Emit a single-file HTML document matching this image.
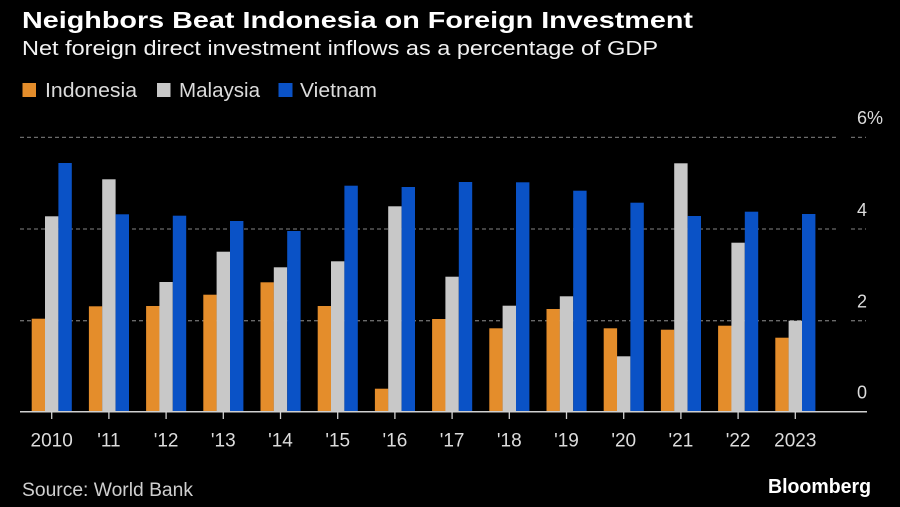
<!DOCTYPE html>
<html><head><meta charset="utf-8"><style>
html,body{margin:0;padding:0;background:#000;}
svg{display:block;}
text{font-family:"Liberation Sans",sans-serif;}
</style></head><body>
<svg width="900" height="507" viewBox="0 0 900 507" xmlns="http://www.w3.org/2000/svg">
<rect width="900" height="507" fill="#000"/>
<text x="22" y="28" font-size="23" font-weight="bold" fill="#fff" textLength="671" lengthAdjust="spacingAndGlyphs">Neighbors Beat Indonesia on Foreign Investment</text>
<text x="22" y="55" font-size="20" fill="#f2f2f2" textLength="636" lengthAdjust="spacingAndGlyphs">Net foreign direct investment inflows as a percentage of GDP</text>
<rect x="22.5" y="83" width="13.5" height="14" fill="#E48D2B"/>
<text x="45" y="97" font-size="20" fill="#dcdcdc" textLength="92" lengthAdjust="spacingAndGlyphs">Indonesia</text>
<rect x="157" y="83" width="13.5" height="14" fill="#C8C8C8"/>
<text x="179" y="97" font-size="20" fill="#dcdcdc" textLength="81" lengthAdjust="spacingAndGlyphs">Malaysia</text>
<rect x="278.5" y="83" width="14" height="14" fill="#0A52C6"/>
<text x="300" y="97" font-size="20" fill="#dcdcdc" textLength="77" lengthAdjust="spacingAndGlyphs">Vietnam</text>
<g stroke="#6a6a6a" stroke-width="1.3" stroke-dasharray="4,3">
<line x1="20" y1="137.4" x2="837" y2="137.4"/><line x1="851" y1="137.4" x2="866" y2="137.4"/>
<line x1="20" y1="229" x2="837" y2="229"/><line x1="851" y1="229" x2="866" y2="229"/>
<line x1="20" y1="320.7" x2="837" y2="320.7"/><line x1="851" y1="320.7" x2="866" y2="320.7"/>
</g>
<g font-size="18" fill="#dcdcdc">
<text x="857" y="124">6%</text>
<text x="857" y="216">4</text>
<text x="857" y="307.5">2</text>
<text x="857" y="398.5">0</text>
</g>
<g id="bars">
<rect x="31.7" y="318.7" width="13.4" height="93" fill="#E48D2B"/><rect x="45.0" y="216.3" width="13.4" height="195.4" fill="#C8C8C8"/><rect x="58.4" y="163" width="13.4" height="248.7" fill="#0A52C6"/>
<rect x="88.9" y="306.3" width="13.4" height="105.4" fill="#E48D2B"/><rect x="102.2" y="179.3" width="13.4" height="232.4" fill="#C8C8C8"/><rect x="115.6" y="214.3" width="13.4" height="197.4" fill="#0A52C6"/>
<rect x="146.1" y="306" width="13.4" height="105.7" fill="#E48D2B"/><rect x="159.4" y="282" width="13.4" height="129.7" fill="#C8C8C8"/><rect x="172.8" y="215.7" width="13.4" height="196" fill="#0A52C6"/>
<rect x="203.3" y="294.7" width="13.4" height="117" fill="#E48D2B"/><rect x="216.6" y="251.7" width="13.4" height="160" fill="#C8C8C8"/><rect x="230.0" y="221" width="13.4" height="190.7" fill="#0A52C6"/>
<rect x="260.5" y="282.3" width="13.4" height="129.4" fill="#E48D2B"/><rect x="273.8" y="267.3" width="13.4" height="144.4" fill="#C8C8C8"/><rect x="287.2" y="231" width="13.4" height="180.7" fill="#0A52C6"/>
<rect x="317.7" y="306" width="13.4" height="105.7" fill="#E48D2B"/><rect x="331.0" y="261.3" width="13.4" height="150.4" fill="#C8C8C8"/><rect x="344.4" y="185.7" width="13.4" height="226" fill="#0A52C6"/>
<rect x="374.9" y="388.7" width="13.4" height="23" fill="#E48D2B"/><rect x="388.2" y="206.3" width="13.4" height="205.4" fill="#C8C8C8"/><rect x="401.6" y="187" width="13.4" height="224.7" fill="#0A52C6"/>
<rect x="432.1" y="319" width="13.4" height="92.7" fill="#E48D2B"/><rect x="445.4" y="276.7" width="13.4" height="135" fill="#C8C8C8"/><rect x="458.8" y="182" width="13.4" height="229.7" fill="#0A52C6"/>
<rect x="489.3" y="328.3" width="13.4" height="83.4" fill="#E48D2B"/><rect x="502.6" y="305.7" width="13.4" height="106" fill="#C8C8C8"/><rect x="516.0" y="182.3" width="13.4" height="229.4" fill="#0A52C6"/>
<rect x="546.5" y="309" width="13.4" height="102.7" fill="#E48D2B"/><rect x="559.8" y="296.3" width="13.4" height="115.4" fill="#C8C8C8"/><rect x="573.2" y="190.7" width="13.4" height="221" fill="#0A52C6"/>
<rect x="603.7" y="328.3" width="13.4" height="83.4" fill="#E48D2B"/><rect x="617.0" y="356.3" width="13.4" height="55.4" fill="#C8C8C8"/><rect x="630.4" y="202.7" width="13.4" height="209" fill="#0A52C6"/>
<rect x="660.9" y="329.7" width="13.4" height="82" fill="#E48D2B"/><rect x="674.2" y="163.3" width="13.4" height="248.4" fill="#C8C8C8"/><rect x="687.6" y="216" width="13.4" height="195.7" fill="#0A52C6"/>
<rect x="718.1" y="325.7" width="13.4" height="86" fill="#E48D2B"/><rect x="731.4" y="242.7" width="13.4" height="169" fill="#C8C8C8"/><rect x="744.8" y="211.7" width="13.4" height="200" fill="#0A52C6"/>
<rect x="775.3" y="337.7" width="13.4" height="74" fill="#E48D2B"/><rect x="788.6" y="320.7" width="13.4" height="91" fill="#C8C8C8"/><rect x="802.0" y="214" width="13.4" height="197.7" fill="#0A52C6"/>
</g>
<line x1="20" y1="411.7" x2="867" y2="411.7" stroke="#d0d0d0" stroke-width="1.5"/>
<g stroke="#d0d0d0" stroke-width="1.3">
<line x1="51.7" y1="412" x2="51.7" y2="419"/><line x1="108.9" y1="412" x2="108.9" y2="419"/><line x1="166.1" y1="412" x2="166.1" y2="419"/><line x1="223.3" y1="412" x2="223.3" y2="419"/><line x1="280.5" y1="412" x2="280.5" y2="419"/><line x1="337.7" y1="412" x2="337.7" y2="419"/><line x1="394.9" y1="412" x2="394.9" y2="419"/><line x1="452.1" y1="412" x2="452.1" y2="419"/><line x1="509.3" y1="412" x2="509.3" y2="419"/><line x1="566.5" y1="412" x2="566.5" y2="419"/><line x1="623.7" y1="412" x2="623.7" y2="419"/><line x1="680.9" y1="412" x2="680.9" y2="419"/><line x1="738.1" y1="412" x2="738.1" y2="419"/><line x1="795.3" y1="412" x2="795.3" y2="419"/>
</g>
<g font-size="19" fill="#dcdcdc" text-anchor="middle">
<text x="51.7" y="446.5">2010</text><text x="108.9" y="446.5">'11</text><text x="166.1" y="446.5">'12</text><text x="223.3" y="446.5">'13</text><text x="280.5" y="446.5">'14</text><text x="337.7" y="446.5">'15</text><text x="394.9" y="446.5">'16</text><text x="452.1" y="446.5">'17</text><text x="509.3" y="446.5">'18</text><text x="566.5" y="446.5">'19</text><text x="623.7" y="446.5">'20</text><text x="680.9" y="446.5">'21</text><text x="738.1" y="446.5">'22</text><text x="795.3" y="446.5">2023</text>
</g>
<text x="22" y="496" font-size="19" fill="#cfcfcf" textLength="171" lengthAdjust="spacingAndGlyphs">Source: World Bank</text>
<text x="768" y="493" font-size="20" font-weight="bold" fill="#fff" textLength="103" lengthAdjust="spacingAndGlyphs">Bloomberg</text>
</svg>
</body></html>
